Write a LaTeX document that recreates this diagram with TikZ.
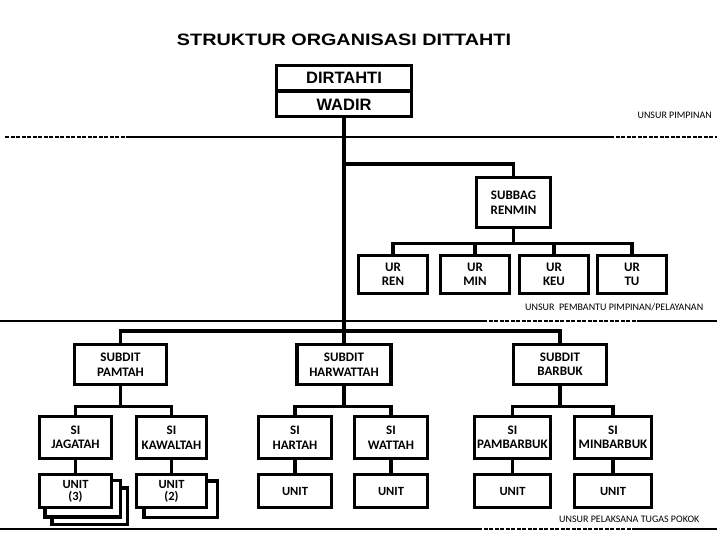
\documentclass[tikz,border=0pt]{standalone}
\usepackage{fontspec}
\setmainfont{Carlito}
\newfontfamily\titlefont[FakeStretch=1.2]{Liberation Sans}
\newfontfamily\dirfont{Liberation Sans}
\usetikzlibrary{calc,backgrounds}
\begin{document}
\begin{tikzpicture}[x=1pt,y=-1pt,
  box/.style={draw, line width=3.5pt, fill=white, inner sep=0pt, align=center,
    font=\bfseries\fontsize{13}{14.5}\selectfont},
  urbox/.style={box, minimum width=69pt, minimum height=38pt},
  subdit/.style={box, minimum height=40pt},
  sibox/.style={box, minimum height=42pt},
  unitbox/.style={box, minimum height=33pt, font=\bfseries\fontsize{12.5}{12}\selectfont},
  conn/.style={line width=3.5pt},
  sepline/.style={line width=1.8pt},
  sepdash/.style={line width=1.8pt, dash pattern=on 4pt off 1.5pt},
  lbl/.style={font=\fontsize{10}{12}\selectfont, inner sep=0pt},
  dirtext/.style={font=\dirfont\bfseries\fontsize{16.5}{18}\selectfont, inner sep=0pt}]
\useasboundingbox (0,0) rectangle (720,540);

% title
\node[font=\titlefont\bfseries\fontsize{16.5}{18}\selectfont, inner sep=0pt] (title) at (344,40) {STRUKTUR ORGANISASI DITTAHTI};

% separators
\draw[sepdash] (5,137) -- (130,137);
\draw[sepline] (130,137) -- (610,137);
\draw[sepdash] (610,137) -- (717,137);
\draw[sepline] (0,321) -- (483,321);
\draw[sepdash] (483,321) -- (638,321);
\draw[sepline] (638,321) -- (717,321);
\draw[sepline] (0,529) -- (478,529);
\draw[sepdash] (478,529) -- (635,529);
\draw[sepline] (635,529) -- (717,529);

\node[lbl, anchor=east] (l1) at (712,115) {UNSUR PIMPINAN};
\node[lbl, anchor=west] (l2) at (525,307) {UNSUR\ \ PEMBANTU PIMPINAN/PELAYANAN};
\node[lbl, anchor=west] (l3) at (559,519) {UNSUR PELAKSANA TUGAS POKOK};

% top box
\node[box, minimum width=135pt, minimum height=51pt] (dir) at (344,91) {};
\draw[line width=3.5pt] (dir.west) -- (dir.east);
\node[dirtext] (dirt) at (344,77.5) {DIRTAHTI};
\node[dirtext] (wadir) at (344,104.5) {WADIR};

% staff
\node[box, minimum width=74pt, minimum height=50pt] (subbag) at (513.5,202.5) {SUBBAG\\RENMIN};
\node[urbox] (urren) at (393,274.5) {UR\\REN};
\node[urbox] (urmin) at (475,274.5) {UR\\MIN};
\node[urbox] (urkeu) at (554,274.5) {UR\\KEU};
\node[urbox] (urtu) at (632,274.5) {UR\\TU};

% subdits
\node[subdit, minimum width=92pt] (pamtah) at (120.5,364.5) {SUBDIT\\PAMTAH};
\node[subdit, minimum width=94pt] (harwat) at (344,364.5) {SUBDIT\\HARWATTAH};
\node[subdit, minimum width=93pt] (barbuk) at (560,364.5) {SUBDIT\\BARBUK};

% SI
\node[sibox, minimum width=72pt] (sij) at (75.5,437.5) {SI\\JAGATAH};
\node[sibox, minimum width=70pt] (sik) at (171.5,437.5) {SI\\KAWALTAH};
\node[sibox, minimum width=73pt] (sih) at (295,437.5) {SI\\HARTAH};
\node[sibox, minimum width=73pt] (siw) at (391,437.5) {SI\\WATTAH};
\node[sibox, minimum width=76pt] (sip) at (512.5,437.5) {SI\\PAMBARBUK};
\node[sibox, minimum width=77pt] (sim) at (613,437.5) {SI\\MINBARBUK};

% units
\node[unitbox, minimum width=72pt] (uj) at (75.5,491) {UNIT\\(3)};
\node[unitbox, minimum width=70pt] (uk) at (171.5,491) {UNIT\\(2)};
\node[unitbox, minimum width=73pt] (uh) at (295,491) {UNIT};
\node[unitbox, minimum width=73pt] (uw) at (391,491) {UNIT};
\node[unitbox, minimum width=76pt] (up) at (512.5,491) {UNIT};
\node[unitbox, minimum width=77pt] (um) at (613,491) {UNIT};

\begin{pgfonlayer}{background}
  \draw[line width=3.5pt, fill=white] ($(uj.north west)+(14,15)$) rectangle ($(uj.south east)+(14,15)$);
  \draw[line width=3.5pt, fill=white] ($(uj.north west)+(7,7.5)$) rectangle ($(uj.south east)+(7,7.5)$);
  \draw[line width=3.5pt, fill=white] ($(uk.north west)+(9,8)$) rectangle ($(uk.south east)+(9,8)$);
\end{pgfonlayer}

% connectors
\coordinate (b1) at (344,164);
\coordinate (hub) at (344,331);
\draw[conn] (dir.south) -- (harwat.north);
\draw[conn] (b1) -| (subbag.north);
\foreach \t in {urren,urmin,urkeu,urtu}
  \draw[conn] (subbag.south) -- ++(0,14) -| (\t.north);
\draw[conn] (pamtah.north) |- (hub) -| (barbuk.north);
\draw[conn] (pamtah.south) -- ++(0,20) -| (sij.north);
\draw[conn] (pamtah.south) -- ++(0,20) -| (sik.north);
\draw[conn] (harwat.south) -- ++(0,20) -| (sih.north);
\draw[conn] (harwat.south) -- ++(0,20) -| (siw.north);
\draw[conn] (barbuk.south) -- ++(0,20) -| (sip.north);
\draw[conn] (barbuk.south) -- ++(0,20) -| (sim.north);
\draw[conn] (sij.south) -- (uj.north);
\draw[conn] (sik.south) -- (uk.north);
\draw[conn] (sih.south) -- (uh.north);
\draw[conn] (siw.south) -- (uw.north);
\draw[conn] (sip.south) -- (up.north);
\draw[conn] (sim.south) -- (um.north);
\end{tikzpicture}
\end{document}
